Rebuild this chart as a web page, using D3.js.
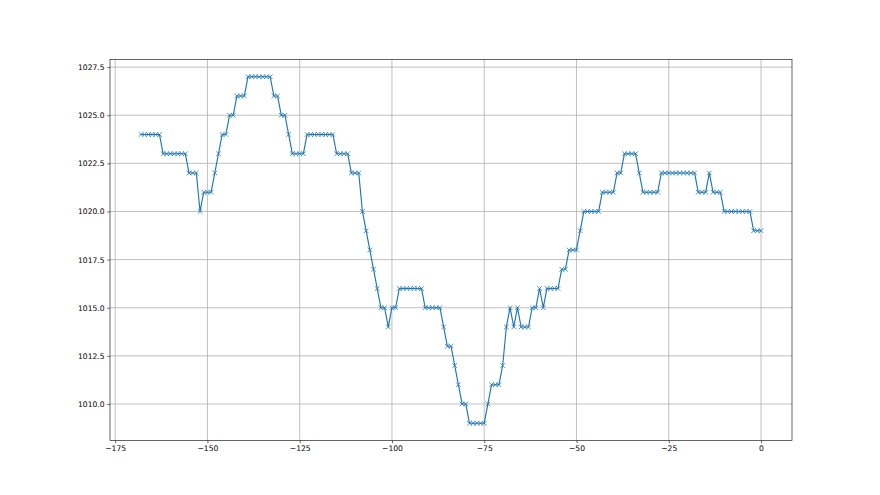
<!DOCTYPE html>
<html>
<head>
<meta charset="utf-8">
<script src="https://cdn.jsdelivr.net/npm/d3@7"></script>
<style>
  html, body { margin: 0; padding: 0; background: #fff; }
  svg { display: block; }
  text { font-family: "DejaVu Sans", sans-serif; }
</style>
</head>
<body>
<svg id="chart" width="880" height="495"></svg>
<script>
// Hours relative to now
const hours = [
  -168,-167,-166,-165,-164,-163,-162,-161,-160,-159,-158,-157,-156,-155,-154,-153,-152,-151,-150,-149,
  -148,-147,-146,-145,-144,-143,-142,-141,-140,-139,-138,-137,-136,-135,-134,-133,-132,-131,-130,-129,
  -128,-127,-126,-125,-124,-123,-122,-121,-120,-119,-118,-117,-116,-115,-114,-113,-112,-111,-110,-109,
  -108,-107,-106,-105,-104,-103,-102,-101,-100,-99,-98,-97,-96,-95,-94,-93,-92,-91,-90,-89,
  -88,-87,-86,-85,-84,-83,-82,-81,-80,-79,-78,-77,-76,-75,-74,-73,-72,-71,-70,-69,
  -68,-67,-66,-65,-64,-63,-62,-61,-60,-59,-58,-57,-56,-55,-54,-53,-52,-51,-50,-49,
  -48,-47,-46,-45,-44,-43,-42,-41,-40,-39,-38,-37,-36,-35,-34,-33,-32,-31,-30,-29,
  -28,-27,-26,-25,-24,-23,-22,-21,-20,-19,-18,-17,-16,-15,-14,-13,-12,-11,-10,-9,
  -8,-7,-6,-5,-4,-3,-2,-1,0
];
// Pressure readings
const pressure = [
  1024,1024,1024,1024,1024,1024,1023,1023,1023,1023,1023,1023,1023,1022,1022,1022,1020,1021,1021,1021,
  1022,1023,1024,1024,1025,1025,1026,1026,1026,1027,1027,1027,1027,1027,1027,1027,1026,1026,1025,1025,
  1024,1023,1023,1023,1023,1024,1024,1024,1024,1024,1024,1024,1024,1023,1023,1023,1023,1022,1022,1022,
  1020,1019,1018,1017,1016,1015,1015,1014,1015,1015,1016,1016,1016,1016,1016,1016,1016,1015,1015,1015,
  1015,1015,1014,1013,1013,1012,1011,1010,1010,1009,1009,1009,1009,1009,1010,1011,1011,1011,1012,1014,
  1015,1014,1015,1014,1014,1014,1015,1015,1016,1015,1016,1016,1016,1016,1017,1017,1018,1018,1018,1019,
  1020,1020,1020,1020,1020,1021,1021,1021,1021,1022,1022,1023,1023,1023,1023,1022,1021,1021,1021,1021,
  1021,1022,1022,1022,1022,1022,1022,1022,1022,1022,1022,1021,1021,1021,1022,1021,1021,1021,1020,1020,
  1020,1020,1020,1020,1020,1020,1019,1019,1019
];
const xTicks = [-175, -150, -125, -100, -75, -50, -25, 0];
const yTicks = [1010.0, 1012.5, 1015.0, 1017.5, 1020.0, 1022.5, 1025.0, 1027.5];

(function () {
const data = hours.map((h, i) => ({ h, p: pressure[i] }));

const mLeft = 110, mRight = 792, mTop = 59.4, mBottom = 440.55;
const svg = d3.select("#chart");

// matplotlib-like 5% margins
const xr = d3.extent(hours), yr = d3.extent(pressure);
const xm = (xr[1] - xr[0]) * 0.05, ym = (yr[1] - yr[0]) * 0.05;
const x = d3.scaleLinear().domain([xr[0] - xm, xr[1] + xm]).range([mLeft, mRight]);
const y = d3.scaleLinear().domain([yr[0] - ym, yr[1] + ym]).range([mBottom, mTop]);

// grid
const grid = svg.append("g");
grid.selectAll(".gx").data(xTicks.filter(t => x(t) >= mLeft && x(t) <= mRight)).join("line")
  .attr("x1", d => x(d)).attr("x2", d => x(d)).attr("y1", mTop).attr("y2", mBottom)
  .attr("stroke", "#b0b0b0").attr("stroke-width", 0.8);
grid.selectAll(".gy").data(yTicks).join("line")
  .attr("y1", d => y(d)).attr("y2", d => y(d)).attr("x1", mLeft).attr("x2", mRight)
  .attr("stroke", "#b0b0b0").attr("stroke-width", 0.8);

// line
const line = d3.line().x(d => x(d.h)).y(d => y(d.p));
svg.append("path").datum(data).attr("d", line)
  .attr("fill", "none").attr("stroke", "#1f77b4").attr("stroke-width", 1.15)
  .attr("stroke-linejoin", "round").attr("stroke-linecap", "square");

// x markers
const ms = 2.3;
svg.append("g").selectAll("path").data(data).join("path")
  .attr("d", d => {
    const cx = x(d.h), cy = y(d.p);
    return `M${cx - ms},${cy - ms}L${cx + ms},${cy + ms}M${cx - ms},${cy + ms}L${cx + ms},${cy - ms}`;
  })
  .attr("stroke", "#1f77b4").attr("stroke-width", 0.8).attr("fill", "none");

// axes
const xAxis = d3.axisBottom(x).tickValues(xTicks).tickSize(2.7).tickPadding(2.7)
  .tickFormat(d => d3.format("d")(d).replace("-", "\u2212"));
const gx = svg.append("g").attr("transform", `translate(0,${mBottom})`).call(xAxis);
const yAxis = d3.axisLeft(y).tickValues(yTicks).tickSize(2.7).tickPadding(2.7)
  .tickFormat(d3.format(".1f"));
const gy = svg.append("g").attr("transform", `translate(${mLeft},0)`).call(yAxis);
[gx, gy].forEach(g => {
  g.select(".domain").remove();
  g.selectAll("line").attr("stroke", "#000").attr("stroke-width", 0.6);
  g.selectAll("text").attr("fill", "#000").style("font-size", "7.6px").style("font-family", "'DejaVu Sans', sans-serif");
});

// spines
svg.append("rect").attr("x", mLeft).attr("y", mTop).attr("width", mRight - mLeft).attr("height", mBottom - mTop)
  .attr("fill", "none").attr("stroke", "#000").attr("stroke-width", 0.6);
})();
</script>
</body>
</html>
